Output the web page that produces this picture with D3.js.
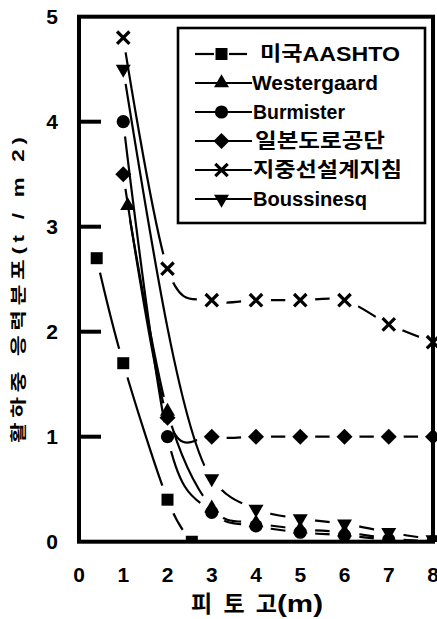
<!DOCTYPE html>
<html><head><meta charset="utf-8">
<script src="https://cdn.jsdelivr.net/npm/d3@7"></script>
<style>body{margin:0;background:#fff}svg{display:block}text{-webkit-font-smoothing:antialiased}</style>
</head><body>
<svg id="c" width="437" height="619"></svg>
<script>
// ---------- data ----------
const xTickValues = [0,1,2,3,4,5,6,7,8];
const yTickValues = [0,1,2,3,4,5];
const yInnerTicks = [1,2,3,4];
const seriesNames = ["미국AASHTO","Westergaard","Burmister","일본도로공단","지중선설계지침","Boussinesq"];
const aashto      = [[0.4,2.7],[1,1.7],[2,0.4],[2.55,0]];
const westergaard = [[1.1,3.2],[2,1.24],[3,0.32],[4,0.18],[5,0.12],[6,0.09],[7,0.03],[8,0]];
const burmister   = [[1,4.0],[2,1.0],[3,0.28],[4,0.15],[5,0.09],[6,0.06],[7,0.02],[8,0]];
const japan       = [[1,3.5],[2,1.18],[3,1],[4,1],[5,1],[6,1],[7,1],[8,1]];
const guide       = [[1,4.8],[2,2.6],[3,2.3],[4,2.3],[5,2.3],[6,2.3],[7,2.07],[8,1.9]];
const boussinesq  = [[1,4.5],[3,0.6],[4,0.31],[5,0.22],[6,0.17],[7,0.09],[8,0.02]];
const xTitleKo = "피 토 고";
const xTitleUnit = "(m)";
const yTitle = "활하중 응력분포(t / m 2)";

// ---------- layout / style ----------
const W = 437, H = 619;
const L = 79, R = 433, T = 16.7, B = 541.7;
const svg = d3.select("#c");
const x = d3.scaleLinear().domain([0,8]).range([L,R]);
const y = d3.scaleLinear().domain([0,5]).range([B,T]);
const FONT = "'Liberation Sans','Noto Sans CJK KR',Arial,sans-serif";

function shapePath(kind, s) {
  const p = d3.path();
  if (kind === "square") { const h = 6*s; p.rect(-h,-h,2*h,2*h); }
  else if (kind === "tri" || kind === "triDown") {
    const side = 15*s, hgt = side*Math.sqrt(3)/2, sg = kind === "tri" ? 1 : -1;
    p.moveTo(0, -sg*2*hgt/3); p.lineTo(side/2, sg*hgt/3); p.lineTo(-side/2, sg*hgt/3); p.closePath();
  }
  else if (kind === "circle") { p.arc(0,0,6.6*s,0,2*Math.PI); }
  else if (kind === "diamond") { const h = 8*s; p.moveTo(0,-h); p.lineTo(h,0); p.lineTo(0,h); p.lineTo(-h,0); p.closePath(); }
  else if (kind === "x") { const h = 6.2*s; p.moveTo(-h,-h); p.lineTo(h,h); p.moveTo(-h,h); p.lineTo(h,-h); }
  return p.toString();
}
function drawMarker(g, kind, s) {
  const path = g.append("path").attr("d", shapePath(kind, s));
  if (kind === "x") path.attr("fill","none").attr("stroke","#000").attr("stroke-width",3.2);
  else path.attr("fill","#000");
}

const series = [
  {name: seriesNames[0], values: aashto,      kind: "square",  curve: d3.curveCardinal.tension(0)},
  {name: seriesNames[1], values: westergaard, kind: "tri",     curve: d3.curveCardinal.tension(0)},
  {name: seriesNames[2], values: burmister,   kind: "circle",  curve: d3.curveCardinal.tension(0)},
  {name: seriesNames[3], values: japan,       kind: "diamond", curve: d3.curveCardinal.tension(0)},
  {name: seriesNames[4], values: guide,       kind: "x",       curve: d3.curveCardinal.tension(0)},
  {name: seriesNames[5], values: boussinesq,  kind: "triDown", curve: d3.curveMonotoneX}
];

const defs = svg.append("defs");
defs.append("clipPath").attr("id","plotclip").append("rect")
  .attr("x",0).attr("y",0).attr("width",W).attr("height",B);

// ---------- lines (broken near own markers) ----------
const lineG = svg.append("g").attr("clip-path","url(#plotclip)");
series.forEach((s,i) => {
  const m = defs.append("mask").attr("id","m"+i).attr("maskUnits","userSpaceOnUse")
    .attr("x",0).attr("y",0).attr("width",W).attr("height",H);
  m.append("rect").attr("width",W).attr("height",H).attr("fill","#fff");
  m.selectAll("circle").data(s.values).join("circle")
    .attr("cx",d=>x(d[0])).attr("cy",d=>y(d[1])).attr("r",15).attr("fill","#000");
  const line = d3.line().x(d=>x(d[0])).y(d=>y(d[1])).curve(s.curve);
  lineG.append("path").attr("d", line(s.values)).attr("fill","none")
    .attr("stroke","#000").attr("stroke-width",2.2).attr("mask","url(#m"+i+")");
});

// ---------- markers ----------
const markG = svg.append("g").attr("clip-path","url(#plotclip)");
[2,3,1,0,4,5].forEach(i => {
  const s = series[i];
  s.values.forEach(d => {
    const g = markG.append("g").attr("transform",`translate(${x(d[0])},${y(d[1])})`);
    drawMarker(g, s.kind, 1);
  });
});

// ---------- frame and ticks ----------
svg.append("rect").attr("x",L).attr("y",T).attr("width",R-L).attr("height",B-T)
  .attr("fill","none").attr("stroke","#000").attr("stroke-width",4);
svg.append("g").selectAll("line").data(yInnerTicks).join("line")
  .attr("x1",L).attr("x2",L+22).attr("y1",d=>y(d)).attr("y2",d=>y(d))
  .attr("stroke","#000").attr("stroke-width",4);

svg.append("g").selectAll("text").data(yTickValues).join("text")
  .attr("x",58).attr("y",d=>y(d)).attr("dy","0.36em").attr("text-anchor","end")
  .attr("font-family",FONT).attr("font-weight","bold").attr("font-size",21)
  .text(d=>d);
svg.append("g").selectAll("text").data(xTickValues).join("text")
  .attr("x",d=>x(d)).attr("y",582).attr("text-anchor","middle")
  .attr("font-family",FONT).attr("font-weight","bold").attr("font-size",21)
  .text(d=>d);

// axis titles
svg.append("text").attr("x",191).attr("y",612)
  .attr("font-family",FONT).attr("font-weight","bold").attr("font-size",23)
  .attr("textLength",86).attr("lengthAdjust","spacing").text(xTitleKo);
svg.append("text").attr("x",277).attr("y",612)
  .attr("font-family",FONT).attr("font-weight","bold").attr("font-size",24)
  .attr("textLength",46).attr("lengthAdjust","spacingAndGlyphs").text(xTitleUnit);
const ySc = 1.4;
svg.append("text").attr("transform",`translate(24,290) rotate(-90) scale(${ySc},1)`)
  .attr("text-anchor","middle").attr("fill","#000")
  .attr("font-family",FONT).attr("font-weight","bold").attr("font-size",16)
  .attr("textLength",306/ySc).attr("lengthAdjust","spacing").text(yTitle);

// ---------- legend ----------
const lg = svg.append("g");
lg.append("rect").attr("x",178).attr("y",28).attr("width",247).attr("height",195)
  .attr("fill","#fff").attr("stroke","#000").attr("stroke-width",2.6);
const labelSpan = [[260,140],[252,126],[253,92],[255,130],[253,149],[253,114]];
series.forEach((s,i) => {
  const ry = 54 + i*29;
  if (i === 0) {
    lg.append("line").attr("x1",195).attr("x2",214).attr("y1",ry).attr("y2",ry).attr("stroke","#000").attr("stroke-width",2.2);
    lg.append("line").attr("x1",229).attr("x2",247).attr("y1",ry).attr("y2",ry).attr("stroke","#000").attr("stroke-width",2.2);
  } else {
    lg.append("line").attr("x1",195).attr("x2",252).attr("y1",ry).attr("y2",ry).attr("stroke","#000").attr("stroke-width",2.2);
  }
  const g = lg.append("g").attr("transform",`translate(221.5,${ry})`);
  drawMarker(g, s.kind, 1);
  lg.append("text").attr("x",labelSpan[i][0]).attr("y",ry+7)
    .attr("font-family",FONT).attr("font-weight","bold").attr("font-size",20)
    .attr("textLength",labelSpan[i][1]).attr("lengthAdjust","spacingAndGlyphs")
    .text(s.name);
});
</script>
</body></html>
